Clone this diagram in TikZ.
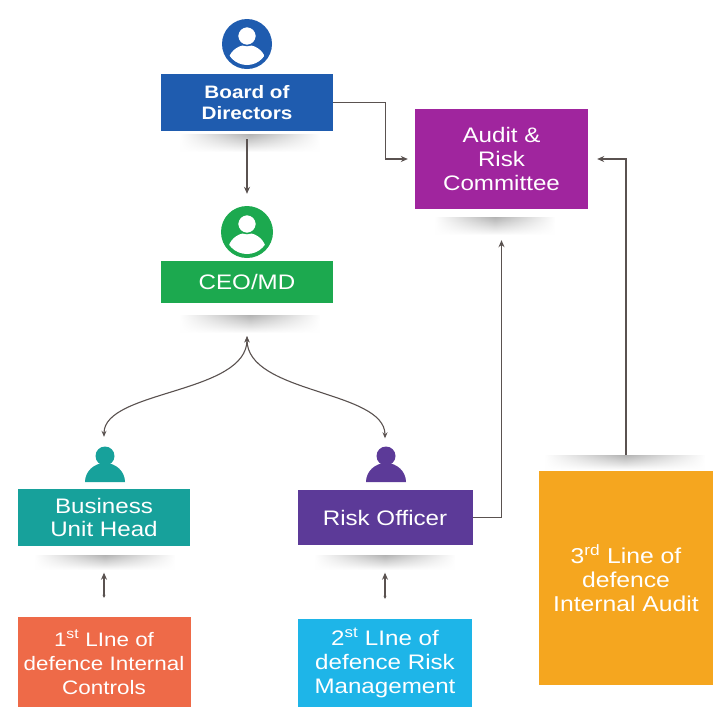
\documentclass[tikz,border=0pt]{standalone}
\usepackage{fontspec}
\setmainfont{Liberation Sans}[FakeStretch=1.15]
\usetikzlibrary{arrows.meta,fadings}
\definecolor{cBoard}{HTML}{1F5CAF}
\definecolor{cCeo}{HTML}{1CA94F}
\definecolor{cAudit}{HTML}{A0259E}
\definecolor{cBuh}{HTML}{17A19B}
\definecolor{cRo}{HTML}{5C3A98}
\definecolor{cOne}{HTML}{EE6A48}
\definecolor{cTwo}{HTML}{1EB5E8}
\definecolor{cThree}{HTML}{F5A61F}
\definecolor{cLine}{HTML}{5A5250}
\tikzfading[name=hfade, left color=transparent!100, right color=transparent!100, middle color=transparent!0]
\begin{document}
\begin{tikzpicture}[x=1pt,y=-1pt,
  box/.style={rectangle, inner sep=0pt, text=white, align=center,
    font=\fontsize{21}{24}\selectfont},
  conn/.style={draw=cLine, line width=1.1pt, -{Stealth[length=7pt,width=6pt]}},
  twoway/.style={draw=cLine, line width=1.1pt, {Stealth[length=6pt,width=5pt]}-{Stealth[length=6pt,width=5pt]}},
  small/.style={draw=cLine, line width=1.1pt, {Stealth[length=3pt,width=3pt]}-{Stealth[length=7pt,width=6pt]}},
  sband/.style={top color=black!30, bottom color=white, path fading=hfade},
  headicon/.style={circle, inner sep=0pt, minimum size=#1},
  person/.pic={
    \fill (0,-10) circle[radius=9.5];
    \fill (-20,16) arc[start angle=180,end angle=360,x radius=20,y radius=19] -- cycle;
  }
]
\useasboundingbox (0,0) rectangle (728,716);
\fill[white] (0,0) rectangle (728,716);

% shadows
\shade[sband] (180,134) rectangle (320,152);
\shade[sband] (180,315) rectangle (320,333);
\shade[sband] (435,217) rectangle (555,235);
\shade[sband] (35,555) rectangle (175,570);
\shade[sband] (315,555) rectangle (455,570);
\shade[sband] (545,455) rectangle (705,470);

% boxes
\node[box, fill=cBoard, minimum width=172pt, minimum height=57pt,
  font=\fontsize{18}{20.5}\selectfont\bfseries] (bod) at (247,102.5) {Board of\\Directors};
\node[box, fill=cCeo, minimum width=172pt, minimum height=42pt] (ceo) at (247,282) {CEO/MD};
\node[box, fill=cAudit, minimum width=173pt, minimum height=100pt] (aud) at (501.5,159) {Audit \&\\Risk\\Committee};
\node[box, fill=cBuh, minimum width=172pt, minimum height=57pt,
  font=\fontsize{21}{23}\selectfont] (buh) at (104,517) {Business\\Unit Head};
\node[box, fill=cRo, minimum width=175pt, minimum height=55pt] (ro) at (385,517.5) {Risk Officer};
\node[box, fill=cOne, minimum width=173pt, minimum height=90pt,
  font=\fontsize{19.5}{24}\selectfont] (l1) at (104,662) {1\textsuperscript{st} LIne of\\defence Internal\\Controls};
\node[box, fill=cTwo, minimum width=174pt, minimum height=88pt] (l2) at (385,663) {2\textsuperscript{st} LIne of\\defence Risk\\Management};
\node[box, fill=cThree, minimum width=174pt, minimum height=214pt,
  font=\fontsize{21.5}{24}\selectfont] (l3) at (626,578) {3\textsuperscript{rd} Line of\\defence\\Internal Audit};

% round icons
\node[headicon=50pt, fill=cBoard, path picture={
  \begin{scope}
    \clip (path picture bounding box.center) circle[radius=21pt];
    \fill[white] ([yshift=-19pt]path picture bounding box.center) ellipse[x radius=19pt, y radius=18pt];
  \end{scope}
  \fill[white, draw=cBoard, line width=1.5pt] ([yshift=8pt]path picture bounding box.center) circle[radius=9.5pt];
}] (bodicon) at (247,44) {};
\node[headicon=52pt, fill=cCeo, path picture={
  \begin{scope}
    \clip (path picture bounding box.center) circle[radius=22pt];
    \fill[white] ([yshift=-19pt]path picture bounding box.center) ellipse[x radius=19pt, y radius=18pt];
  \end{scope}
  \fill[white, draw=cCeo, line width=1.5pt] ([yshift=8pt]path picture bounding box.center) circle[radius=9.5pt];
}] (ceoicon) at (247,232) {};

% flat person icons
\pic[fill=cBuh] at (105,466) {person};
\pic[fill=cRo] at (386,466) {person};

% connectors
\draw[conn] ([yshift=-8pt]bod.south) -- ([yshift=12pt]ceoicon.north);
\draw[conn] (bod.east) -- ++(52,0) |- ([xshift=-7pt]aud.west);
\draw[conn] (ro.east) -| ([yshift=-31pt]aud.south);
\draw[conn] ([yshift=16pt]l3.north) |- ([xshift=9pt]aud.east);
\draw[twoway] ([yshift=51.5pt]buh.north) .. controls (104,390) and (247,394) .. ([yshift=-33pt]ceo.south);
\draw[twoway] ([yshift=51.5pt]ro.north) .. controls (385,390) and (247,394) .. ([yshift=-33pt]ceo.south);
\draw[small] ([yshift=19pt]l1.north) -- ([yshift=-27pt]buh.south);
\draw[small] ([yshift=20pt]l2.north) -- ([yshift=-27.5pt]ro.south);
\end{tikzpicture}
\end{document}
